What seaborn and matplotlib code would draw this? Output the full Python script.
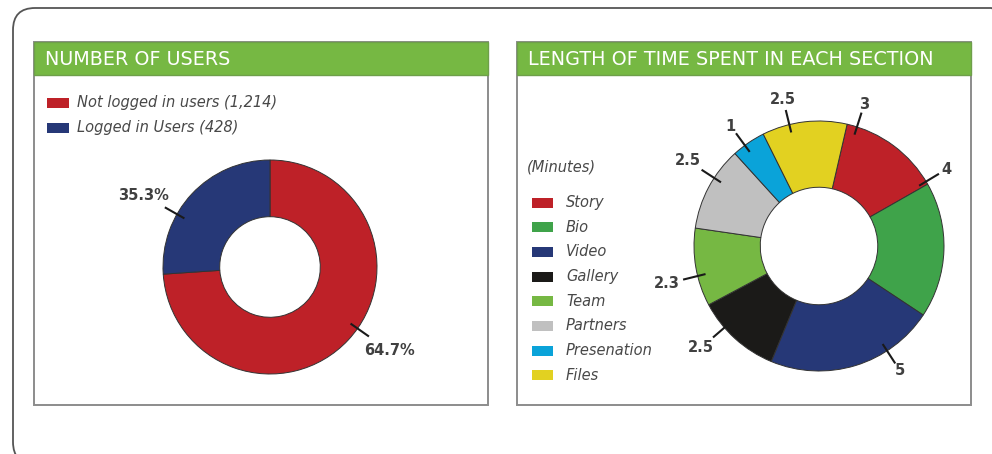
import numpy as np
import matplotlib
matplotlib.use("Agg")
import matplotlib.pyplot as plt
import seaborn as sns
from matplotlib.patches import Rectangle, FancyBboxPatch

# ---------------- data ----------------
title_left = "NUMBER OF USERS"
title_right = "LENGTH OF TIME SPENT IN EACH SECTION"
units_label = "(Minutes)"

users_labels = ["Not logged in users (1,214)", "Logged in Users (428)"]
users_values = [1214, 428]
users_pct_labels = ["64.7%", "35.3%"]

section_names = ["Story", "Bio", "Video", "Gallery", "Team", "Partners", "Presenation", "Files"]
section_minutes = [3, 4, 5, 2.5, 2.3, 2.5, 1, 2.5]
section_value_labels = ["3", "4", "5", "2.5", "2.3", "2.5", "1", "2.5"]

# ---------------- style ----------------
users_colors = sns.color_palette(["#BE2128", "#263877"])
section_colors = sns.color_palette(["#BE2128", "#3FA34A", "#263877", "#1B1A18",
                                    "#76B843", "#C0C0C0", "#0AA3D9", "#E2D121"])
HEADER_GREEN = "#76B843"
TEXT_GRAY = "#484848"
NUM_COLOR = "#404040"

sns.set_theme(style="white")
plt.rcParams['font.family'] = ['DejaVu Sans']

W, H = 992, 454
fig = plt.figure(figsize=(W / 100, H / 100), dpi=100)
fig.patch.set_facecolor("white")

bg = fig.add_axes([0, 0, 1, 1])
bg.set_xlim(0, W)
bg.set_ylim(H, 0)
bg.axis("off")

# outer rounded frame (drawn in display pixels, origin bottom-left)
fig.patches.append(FancyBboxPatch((13, -10), 1000, 456,
                                  boxstyle="round,pad=0,rounding_size=22",
                                  fill=False, ec="#555555", lw=1.3,
                                  transform=None, figure=fig, clip_on=False))


def panel(x0, x1, title):
    bg.add_patch(Rectangle((x0, 42), x1 - x0, 405 - 42, fill=False, ec="#8c8c8c", lw=1.4))
    bg.add_patch(Rectangle((x0, 42), x1 - x0, 33, fc=HEADER_GREEN, ec="#6e9f4a", lw=1.0))
    bg.text(x0 + 11, 59.5, title, color="white", fontsize=13.8,
            va="center", ha="left")


panel(34, 488, title_left)
panel(517, 971, title_right)

# legends
for i, (lab, col) in enumerate(zip(users_labels, users_colors)):
    y = 102.5 + i * 25
    bg.add_patch(Rectangle((47, y - 5), 22, 10, fc=col, ec="none"))
    bg.text(77, y, lab, color=TEXT_GRAY, fontsize=10.5, style="italic",
            va="center", ha="left")

bg.text(527, 167, units_label, color=TEXT_GRAY, fontsize=10.5, style="italic",
        va="center", ha="left")
for i, (lab, col) in enumerate(zip(section_names, section_colors)):
    y = 202.5 + i * 24.7
    bg.add_patch(Rectangle((532, y - 5), 21, 10, fc=col, ec="none"))
    bg.text(566, y, lab, color=TEXT_GRAY, fontsize=10.5, style="italic",
            va="center", ha="left")


def donut_axes(cx, cy, R, lim=1.6):
    s = 2 * lim * R
    ax = fig.add_axes([(cx - lim * R) / W, (H - cy - lim * R) / H, s / W, s / H])
    return ax


def donut(ax, values, colors, startangle, texts, offsets, r_in, r_out, r_txt, extra):
    wedges, _ = ax.pie(values, colors=colors, startangle=startangle, counterclock=False,
                       radius=1.0,
                       wedgeprops=dict(width=0.53, edgecolor="#333333", linewidth=0.7))
    for w, t, off in zip(wedges, texts, offsets):
        th = np.deg2rad((w.theta1 + w.theta2) / 2 + off)
        c, s = np.cos(th), np.sin(th)
        ax.plot([r_in * c, r_out * c], [r_in * s, r_out * s], color="#1a1a1a", lw=1.5,
                solid_capstyle="butt")
        rt = r_txt + (extra * abs(c) if len(t) > 1 else 0)
        ax.text(rt * c, rt * s, t, ha="center", va="center", fontsize=10.5,
                fontweight="bold", color=NUM_COLOR)
    ax.set_xlim(-1.6, 1.6)
    ax.set_ylim(-1.6, 1.6)
    ax.set_aspect("equal")
    ax.axis("off")


ax1 = donut_axes(270, 267, 107)
donut(ax1, users_values, users_colors, 90, users_pct_labels, [8, 13.5],
      0.92, 1.13, 1.36, 0.0)

ax2 = donut_axes(819, 246, 125)
donut(ax2, section_minutes, section_colors, 77, section_value_labels,
      [19, 33, 16, -7, 4, -5, 2, 7], 0.935, 1.12, 1.19, 0.07)

fig.savefig("out.png", dpi=100, facecolor="white")
